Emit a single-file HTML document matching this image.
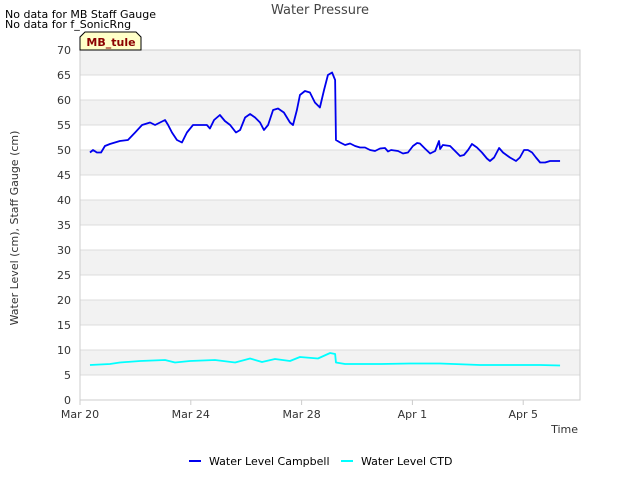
<!DOCTYPE html>
<html><head><meta charset="utf-8"><style>
body{margin:0;background:#fff;font-family:"Liberation Sans","DejaVu Sans",sans-serif}
svg text{font-family:"DejaVu Sans","Liberation Sans",sans-serif}
</style></head><body>
<svg id="c" width="640" height="480" viewBox="0 0 640 480">
<text x="5" y="18" font-size="11" fill="#000">No data for MB Staff Gauge</text>
<text x="5" y="28" font-size="11" fill="#000">No data for f_SonicRng</text>
<text x="320" y="14" font-size="13" fill="#444" text-anchor="middle">Water Pressure</text>
<g id="plot"></g>
<text x="18" y="228" font-size="11" fill="#333" text-anchor="middle" transform="rotate(-90 18 228)">Water Level (cm), Staff Gauge (cm)</text>
<text x="578" y="433" font-size="11" fill="#333" text-anchor="end">Time</text>
<g>
<path d="M80 50 L80 37 L85 32 L136 32 L141 37 L141 50 Z" fill="#ffffc8" stroke="#000" stroke-width="1"/>
<text x="111" y="46" font-size="11" font-weight="bold" fill="#8b0000" text-anchor="middle">MB_tule</text>
</g>
<g>
<line x1="189" y1="461" x2="201" y2="461" stroke="#0000ee" stroke-width="2"/>
<text x="209" y="465" font-size="11" fill="#000">Water Level Campbell</text>
</g>
<g>
<line x1="341" y1="461" x2="353" y2="461" stroke="#00ffff" stroke-width="2"/>
<text x="361" y="465" font-size="11" fill="#000">Water Level CTD</text>
</g>
</svg>
<script>
const campbellDays=[0.36,0.47,0.61,0.76,0.9,1.08,1.44,1.73,1.99,2.24,2.53,2.71,2.89,3.07,3.18,3.32,3.5,3.68,3.86,4.08,4.33,4.58,4.69,4.84,5.05,5.23,5.42,5.63,5.78,5.96,6.14,6.32,6.5,6.64,6.79,6.97,7.15,7.36,7.58,7.69,7.83,7.94,8.12,8.3,8.48,8.66,8.81,8.95,9.1,9.21,9.24,9.39,9.57,9.75,9.93,10.11,10.29,10.47,10.65,10.83,11.01,11.12,11.23,11.48,11.66,11.84,12.02,12.17,12.27,12.45,12.64,12.82,12.96,13.0,13.1,13.36,13.54,13.72,13.86,14.01,14.15,14.33,14.51,14.69,14.8,14.95,15.13,15.27,15.52,15.74,15.88,16.03,16.17,16.32,16.46,16.61,16.79,16.97,17.15,17.33];
const campbellValues=[49.5,50,49.5,49.5,50.8,51.2,51.8,52,53.5,55,55.5,55,55.5,56,55,53.5,52,51.5,53.5,55,55,55,54.3,56,57,55.8,55,53.5,54,56.5,57.2,56.5,55.5,54,55,58,58.3,57.5,55.5,55,58,61,61.8,61.5,59.5,58.5,62,65,65.5,64,52,51.5,51,51.3,50.8,50.5,50.5,50,49.8,50.3,50.4,49.7,50,49.8,49.3,49.5,50.8,51.4,51.3,50.3,49.3,49.8,51.8,50.2,51,50.8,49.8,48.8,49,50,51.2,50.5,49.5,48.3,47.8,48.5,50.4,49.5,48.5,47.8,48.5,50,50,49.5,48.5,47.5,47.5,47.8,47.8,47.8];
const ctdDays=[0.36,1.08,1.44,2.17,3.07,3.43,3.97,4.87,5.6,6.14,6.57,7.04,7.58,7.94,8.59,9.03,9.21,9.24,9.57,10.83,11.91,13.0,14.44,15.16,16.61,17.33];
const ctdValues=[7,7.2,7.5,7.8,8,7.5,7.8,8,7.5,8.3,7.6,8.2,7.8,8.6,8.3,9.4,9.2,7.5,7.2,7.2,7.3,7.3,7,7,7,6.9];
const yTicks=[0,5,10,15,20,25,30,35,40,45,50,55,60,65,70];
const xTickDays=[0,4,8,12,16];
const xTickLabels=["Mar 20","Mar 24","Mar 28","Apr 1","Apr 5"];
const X0=80,X1=580,Y0=400,Y1=50,DMAX=18.05,VMAX=70;
const sx=d=>X0+d*(X1-X0)/DMAX;
const sy=v=>Y0-v*(Y0-Y1)/VMAX;
const NS="http://www.w3.org/2000/svg";
const g=document.getElementById('plot');
function mk(t,a){const e=document.createElementNS(NS,t);for(const k in a)e.setAttribute(k,a[k]);g.appendChild(e);return e;}
for(let v=5;v<70;v+=10){
 const r=mk('rect',{x:X0,y:sy(v+5),width:X1-X0,height:sy(v)-sy(v+5),fill:'#f2f2f2'});
 
 
}
yTicks.forEach(v=>{
 const l=mk('line',{x1:X0,x2:X1,y1:sy(v),y2:sy(v),stroke:'#dcdcdc','stroke-width':1});
 
 
 const t=mk('text',{x:X0-9,y:sy(v)+4,'font-size':11,fill:'#333','text-anchor':'end'});
 t.textContent=v;
 
 
});
const fr=mk('rect',{x:X0,y:Y1,width:X1-X0,height:Y0-Y1,fill:'none',stroke:'#ccc'});


xTickDays.forEach((d,i)=>{
 const tk=mk('line',{x1:sx(d),x2:sx(d),y1:Y0,y2:Y0+5,stroke:'#ccc'});
 
 
 const t=mk('text',{x:sx(d),y:Y0+18,'font-size':11,fill:'#333','text-anchor':'middle'});
 t.textContent=xTickLabels[i];
 
 
});
function line(ds,vs,color,name){
 const p=mk('polyline',{points:ds.map((d,i)=>sx(d)+','+sy(vs[i])).join(' '),fill:'none',stroke:color,'stroke-width':1.8,'stroke-linejoin':'round'});
 
 
}
line(ctdDays,ctdValues,'#00ffff','series-ctd');
line(campbellDays,campbellValues,'#0000ee','series-campbell');
</script>
</body></html>
